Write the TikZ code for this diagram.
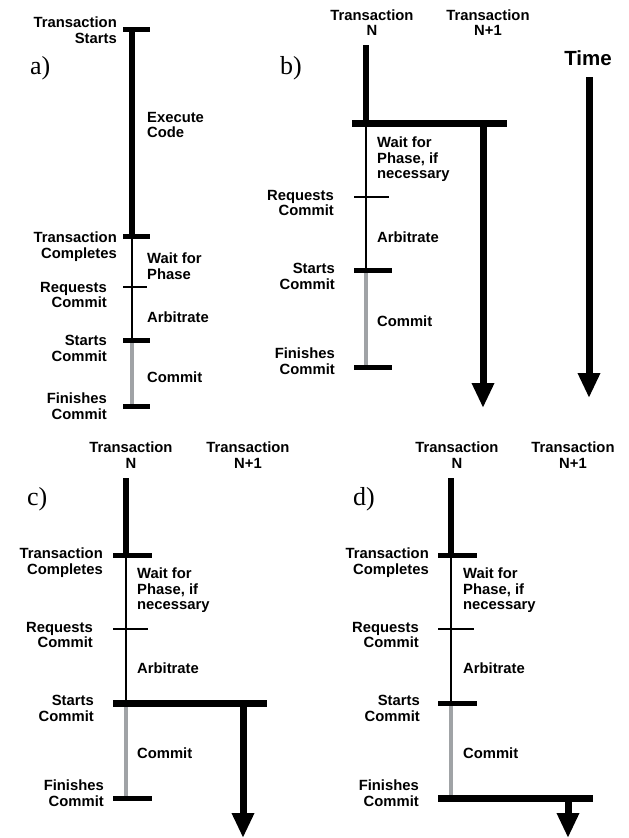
\documentclass[tikz,border=0pt]{standalone}
\usepackage{fontspec}
\usetikzlibrary{arrows.meta}
\newfontfamily\heros{Liberation Sans}
\newfontfamily\tms{Liberation Serif}
\definecolor{cgray}{RGB}{160,163,166}
\begin{document}
\begin{tikzpicture}[x=1pt,y=-1pt,
  lbl/.style={font=\heros\bfseries\fontsize{14.8}{15.5}\selectfont, inner sep=0pt},
  lr/.style={lbl, align=right, anchor=north east},
  ll/.style={lbl, align=left, anchor=north west},
  hd/.style={lbl, align=center, anchor=north},
  plab/.style={font=\tms\fontsize{26}{26}\selectfont, inner sep=0pt, anchor=base west},
  thickln/.style={line width=6pt},
  thinln/.style={line width=2.2pt},
  commitln/.style={line width=4.5pt, draw=cgray},
  tickln/.style={line width=5pt},
  thintick/.style={line width=2.5pt},
  barln/.style={line width=7pt},
  flow/.style={line width=7pt, -{Triangle[width=21pt,length=25pt]}},
]
\useasboundingbox (0,0) rectangle (629,838);

% ---------------- panel a ----------------
\node[plab] (la) at (30,74) {a)};
\coordinate (aTop) at (132,29);
\coordinate (aTc) at (132,236);
\coordinate (aRq) at (132,287);
\coordinate (aSc) at (132,340);
\coordinate (aFc) at (132,406);
\draw[thickln] (aTop) -- (aTc);
\draw[thinln] (aTc) -- (aSc);
\draw[commitln] (aSc) -- (aFc);
\draw[tickln] ([xshift=-9pt]aTop) -- ([xshift=18pt]aTop);
\draw[tickln] ([xshift=-9pt]aTc) -- ([xshift=18pt]aTc);
\draw[thintick] ([xshift=-9pt]aRq) -- ([xshift=15pt]aRq);
\draw[tickln] ([xshift=-9pt]aSc) -- ([xshift=18pt]aSc);
\draw[tickln] ([xshift=-9pt]aFc) -- ([xshift=18pt]aFc);
\node[lr] (aL1) at (117,17) {Transaction\\Starts};
\node[ll] (aR1) at (147,112) {Execute\\Code};
\node[lr] (aL2) at (117,232) {Transaction\\Completes};
\node[ll] (aR2) at (147,253) {Wait for\\Phase};
\node[lr] (aL3) at (107,282) {Requests\\Commit};
\node[ll] (aR3) at (147,312) {Arbitrate};
\node[lr] (aL4) at (107,335) {Starts\\Commit};
\node[ll] (aR4) at (147,372) {Commit};
\node[lr] (aL5) at (107,393) {Finishes\\Commit};

% ---------------- panel b ----------------
\node[plab] (lb) at (280,74) {b)};
\node[hd] (bhN) at (372,9.5) {Transaction\\N};
\node[hd] (bhN1) at (488,9.5) {Transaction\\N+1};
\node[lbl, anchor=north, font=\heros\bfseries\fontsize{20.5}{22}\selectfont] (time) at (588,50) {Time};
\coordinate (tS) at (589,77);
\coordinate (tE) at (589,398);
\draw[flow] (tS) -- (tE);
\coordinate (bTop) at (366,45);
\coordinate (bTc) at (366,123);
\coordinate (bRq) at (366,197);
\coordinate (bSc) at (366,270);
\coordinate (bFc) at (366,367);
\coordinate (bBarL) at (352,123);
\coordinate (bBarR) at (507,123);
\coordinate (bN1s) at (483,123);
\coordinate (bN1e) at (483,408);
\draw[thickln] (bTop) -- (bTc);
\draw[thinln] (bTc) -- (bSc);
\draw[commitln] (bSc) -- (bFc);
\draw[flow] (bN1s) -- (bN1e);
\draw[barln] (bBarL) -- (bBarR);
\draw[thintick] ([xshift=-12pt]bRq) -- ([xshift=23pt]bRq);
\draw[tickln] ([xshift=-12pt]bSc) -- ([xshift=26pt]bSc);
\draw[tickln] ([xshift=-12pt]bFc) -- ([xshift=26pt]bFc);
\node[ll] (bR1) at (377,137) {Wait for\\Phase, if\\necessary};
\node[lr] (bL1) at (334,190) {Requests\\Commit};
\node[ll] (bR2) at (377,232) {Arbitrate};
\node[lr] (bL2) at (335,263) {Starts\\Commit};
\node[ll] (bR3) at (377,316) {Commit};
\node[lr] (bL3) at (335,348) {Finishes\\Commit};

% ---------------- panel c ----------------
\node[plab] (lc) at (27,505.5) {c)};
\node[hd] (chN) at (131,442) {Transaction\\N};
\node[hd] (chN1) at (248,442) {Transaction\\N+1};
\coordinate (cTop) at (126,478);
\coordinate (cTc) at (126,555);
\coordinate (cRq) at (126,629);
\coordinate (cSc) at (126,703);
\coordinate (cFc) at (126,798);
\coordinate (cBarL) at (113,703);
\coordinate (cBarR) at (267,703);
\coordinate (cN1s) at (243,703);
\coordinate (cN1e) at (243,838);
\draw[thickln] (cTop) -- (cTc);
\draw[thinln] (cTc) -- (cSc);
\draw[commitln] (cSc) -- (cFc);
\draw[flow] (cN1s) -- (cN1e);
\draw[barln] (cBarL) -- (cBarR);
\draw[tickln] ([xshift=-13pt]cTc) -- ([xshift=26pt]cTc);
\draw[thintick] ([xshift=-13pt]cRq) -- ([xshift=22pt]cRq);
\draw[tickln] ([xshift=-13pt]cFc) -- ([xshift=26pt]cFc);
\node[lr] (cL1) at (103,548) {Transaction\\Completes};
\node[ll] (cR1) at (137,568) {Wait for\\Phase, if\\necessary};
\node[lr] (cL2) at (93,622) {Requests\\Commit};
\node[ll] (cR2) at (137,663) {Arbitrate};
\node[lr] (cL3) at (94,695) {Starts\\Commit};
\node[ll] (cR3) at (137,748) {Commit};
\node[lr] (cL4) at (104,780) {Finishes\\Commit};

% ---------------- panel d ----------------
\node[plab] (ld) at (353,505.5) {d)};
\node[hd] (dhN) at (457,442) {Transaction\\N};
\node[hd] (dhN1) at (573,442) {Transaction\\N+1};
\coordinate (dTop) at (451,478);
\coordinate (dTc) at (451,555);
\coordinate (dRq) at (451,629);
\coordinate (dSc) at (451,703);
\coordinate (dFc) at (451,798);
\coordinate (dBarL) at (438,798);
\coordinate (dBarR) at (593,798);
\coordinate (dN1s) at (568,798);
\coordinate (dN1e) at (568,838);
\draw[thickln] (dTop) -- (dTc);
\draw[thinln] (dTc) -- (dSc);
\draw[commitln] (dSc) -- (dFc);
\draw[flow] (dN1s) -- (dN1e);
\draw[barln] (dBarL) -- (dBarR);
\draw[tickln] ([xshift=-13pt]dTc) -- ([xshift=26pt]dTc);
\draw[thintick] ([xshift=-13pt]dRq) -- ([xshift=23pt]dRq);
\draw[tickln] ([xshift=-13pt]dSc) -- ([xshift=26pt]dSc);
\node[lr] (dL1) at (429,548) {Transaction\\Completes};
\node[ll] (dR1) at (463,568) {Wait for\\Phase, if\\necessary};
\node[lr] (dL2) at (419,622) {Requests\\Commit};
\node[ll] (dR2) at (463,663) {Arbitrate};
\node[lr] (dL3) at (420,695) {Starts\\Commit};
\node[ll] (dR3) at (463,748) {Commit};
\node[lr] (dL4) at (419,780) {Finishes\\Commit};
\end{tikzpicture}
\end{document}
